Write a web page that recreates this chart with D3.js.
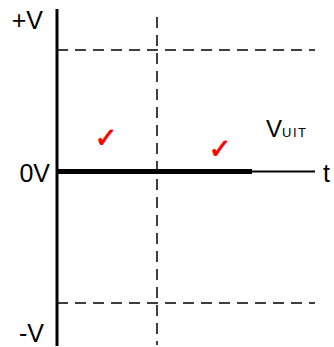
<!DOCTYPE html>
<html>
<head>
<meta charset="utf-8">
<script src="https://cdn.jsdelivr.net/npm/d3@7"></script>
<style>
html,body{margin:0;padding:0;background:#fff;}
svg{display:block;}
text{font-family:"Liberation Sans",Arial,sans-serif;fill:#000;}
</style>
</head>
<body>
<svg id="chart" width="334" height="347"></svg>
<script>
// Voltage levels (value) and their axis labels
const levels = [1, 0, -1];
const levelLabels = ["+V", "0V", "-V"];
// Time marks: dashed vertical marker, end of thick signal, end of axis
const markerTimes = [1];
const signalSegments = [
  {t0: 0, t1: 1.95, v: 0, kind: "thick"},
  {t0: 1.95, t1: 2.58, v: 0, kind: "thin"}
];
const checkTimes = [0.49, 1.63];
const checkValues = [0.30, 0.21];
const seriesLabel = ["V", "UIT"];
const timeLabel = "t";

const svg = d3.select("#chart");
const x = d3.scaleLinear().domain([0, 2.58]).range([57, 315]);
const y = d3.scaleLinear().domain([-1, 0, 1]).range([303, 171.5, 50]);

// dashed reference lines for +V and -V
svg.selectAll("line.ref").data(levels.filter(d => d !== 0)).enter()
  .append("line").attr("class", "ref")
  .attr("x1", x(0)).attr("x2", x(2.58))
  .attr("y1", d => y(d)).attr("y2", d => y(d))
  .attr("stroke", "#000").attr("stroke-width", 1.5)
  .attr("stroke-dasharray", "11,7");

// vertical dashed marker
svg.selectAll("line.marker").data(markerTimes).enter()
  .append("line").attr("class", "marker")
  .attr("x1", d => x(d)).attr("x2", d => x(d))
  .attr("y1", 17).attr("y2", 345)
  .attr("stroke", "#000").attr("stroke-width", 1.5)
  .attr("stroke-dasharray", "11,7");

// signal
svg.selectAll("line.sig").data(signalSegments).enter()
  .append("line").attr("class", "sig")
  .attr("x1", d => x(d.t0)).attr("x2", d => x(d.t1))
  .attr("y1", d => y(d.v)).attr("y2", d => y(d.v))
  .attr("stroke", "#000")
  .attr("stroke-width", d => d.kind === "thick" ? 5 : 2);

// y axis line
svg.append("line")
  .attr("x1", x(0)).attr("x2", x(0))
  .attr("y1", 9).attr("y2", 346)
  .attr("stroke", "#000").attr("stroke-width", 3);

// level labels
svg.append("text").attr("x", 43).attr("y", 29).attr("text-anchor", "end")
  .attr("font-size", 25).text(levelLabels[0]);
svg.append("text").attr("x", 50).attr("y", y(0) + 10.5).attr("text-anchor", "end")
  .attr("font-size", 25).text(levelLabels[1]);
svg.append("text").attr("x", 44).attr("y", 342).attr("text-anchor", "end")
  .attr("font-size", 25).text(levelLabels[2]);

// time label
svg.append("text").attr("x", 323).attr("y", y(0) + 10.5)
  .attr("font-size", 25).text(timeLabel);

// series label V_UIT
const vl = svg.append("text").attr("x", 266).attr("y", 137).attr("font-size", 24);
vl.append("tspan").text(seriesLabel[0]);
vl.append("tspan").attr("font-size", 13).attr("letter-spacing", 1.5).text(seriesLabel[1]);

// red check marks
svg.selectAll("text.check").data(checkTimes).enter()
  .append("text").attr("class", "check")
  .attr("x", d => x(d)).attr("y", (d, i) => y(checkValues[i]) + 12)
  .attr("text-anchor", "middle")
  .style("font-family", "'DejaVu Sans',sans-serif")
  .style("fill", "#f00")
  .style("stroke", "#f00")
  .style("stroke-width", 0.9)
  .attr("font-size", 27)
  .text("\u2713");
</script>
</body>
</html>
